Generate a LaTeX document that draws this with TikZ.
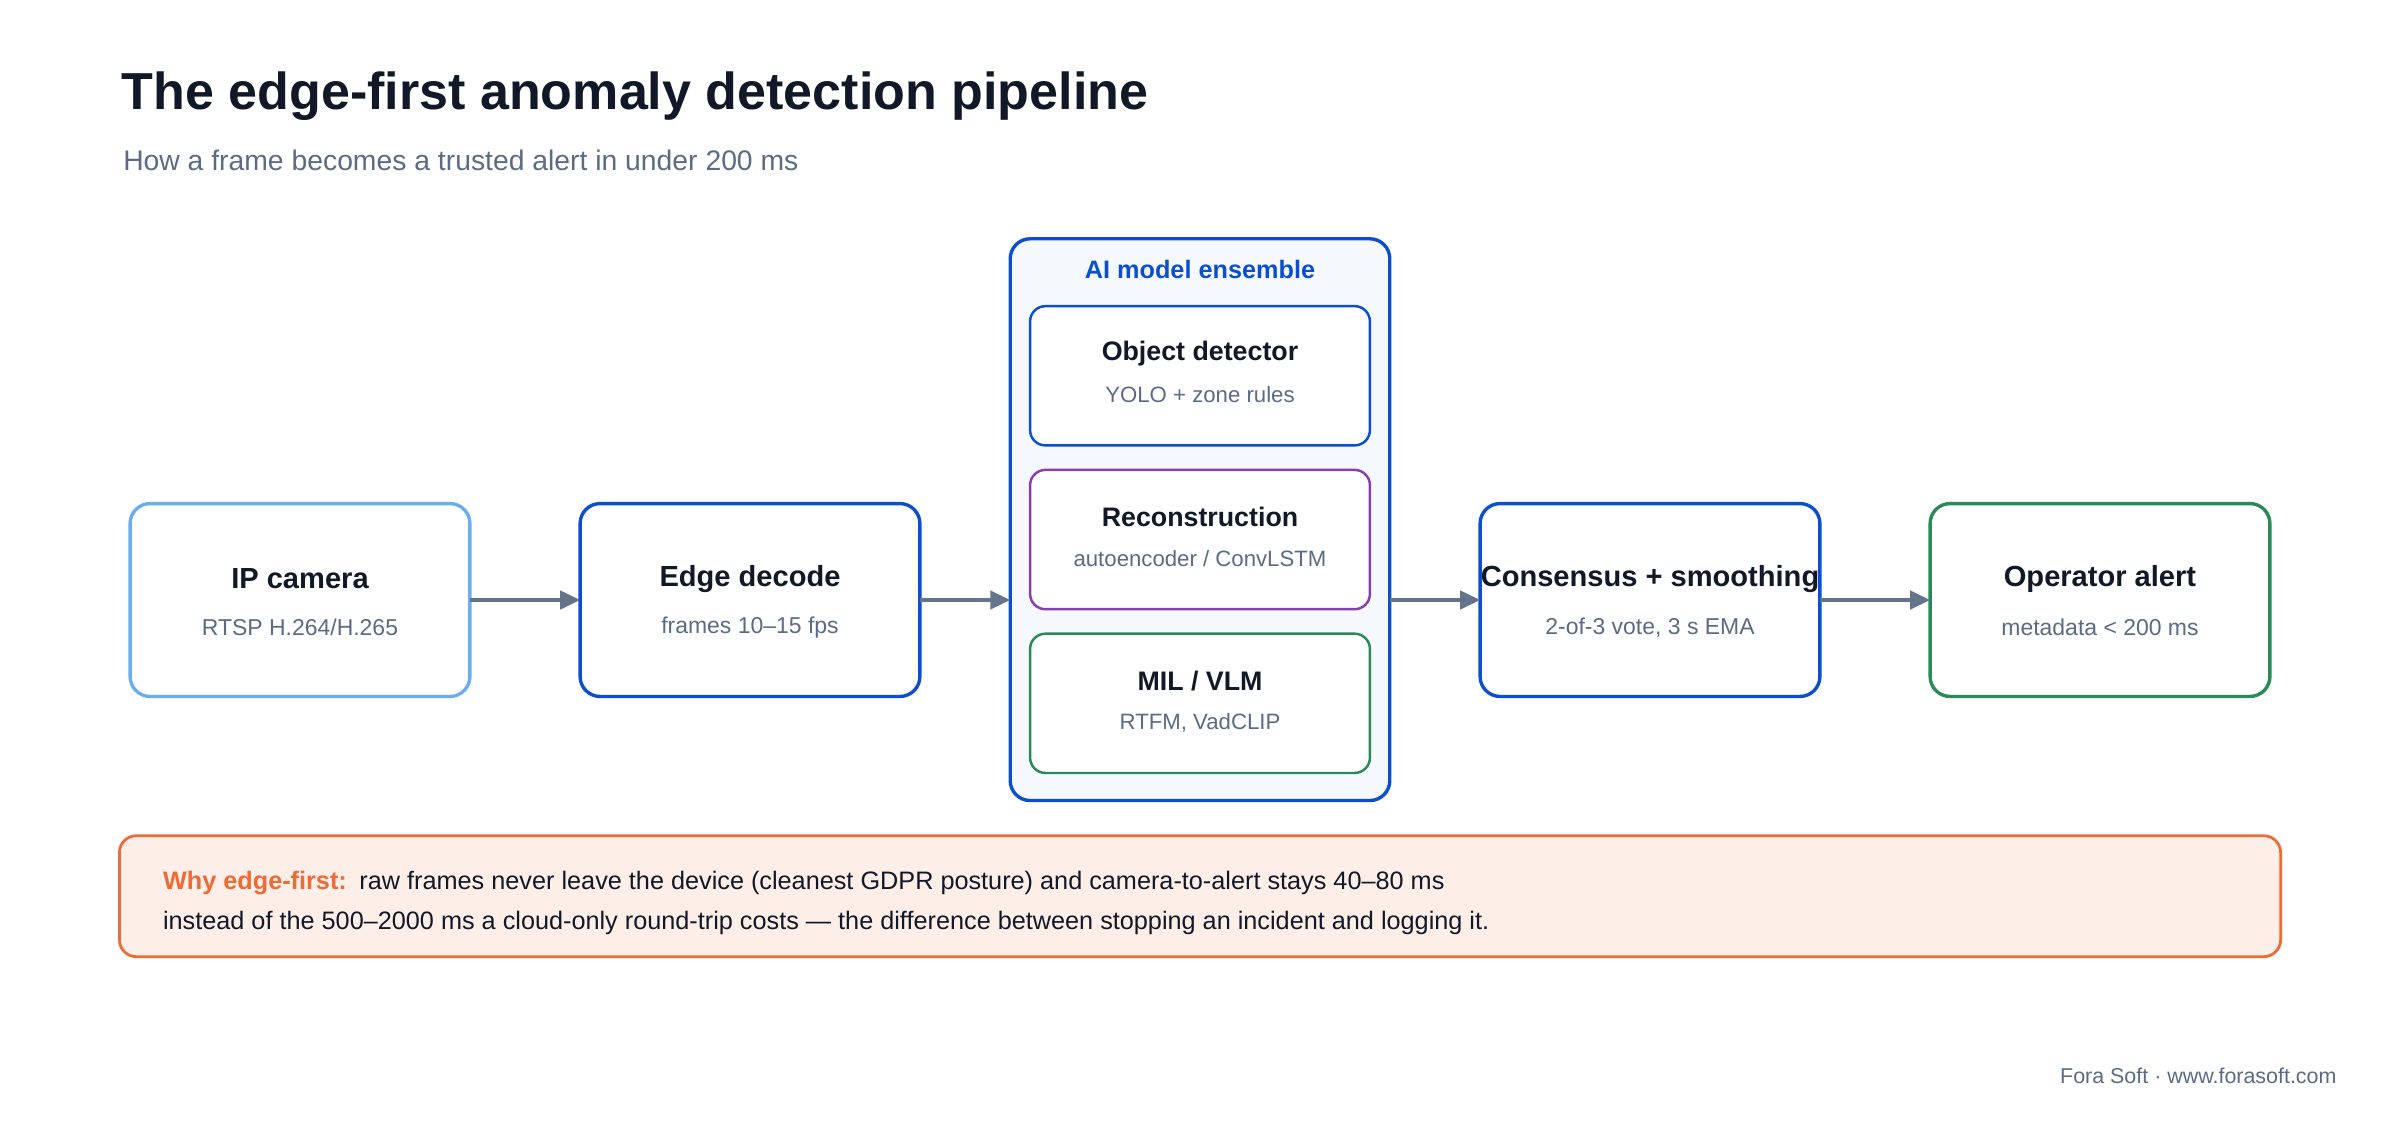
\documentclass[tikz,border=0pt]{standalone}
\usepackage{fontspec}
\setmainfont{Liberation Sans}
\usetikzlibrary{arrows.meta}
\definecolor{ink}{HTML}{111827}
\definecolor{sub}{HTML}{5B6B85}
\definecolor{lblue}{HTML}{6AAEF0}
\definecolor{dblue}{HTML}{0B4FD0}
\definecolor{purp}{HTML}{8A3DB0}
\definecolor{grn}{HTML}{2A8A55}
\definecolor{arr}{HTML}{64748B}
\definecolor{org}{HTML}{F06A35}
\definecolor{orgfill}{HTML}{FDEEE8}
\definecolor{ensfill}{HTML}{F5F8FC}
\tikzset{x=1pt,y=-1pt,
 box/.style={draw,line width=2.2pt,rounded corners=13pt,fill=white},
 inbox/.style={draw,line width=1.6pt,rounded corners=10pt,fill=white},
 ttl/.style={font=\fontsize{19}{22}\selectfont\bfseries,text=ink},
 st/.style={font=\fontsize{15}{18}\selectfont,text=sub},
 con/.style={draw=arr,line width=2pt,-{Triangle[length=13pt,width=12pt]}}}
\begin{document}
\begin{tikzpicture}
\useasboundingbox (0,0) rectangle (1568,732);
\node[anchor=west,font=\fontsize{34}{40}\selectfont\bfseries,text=ink] (title) at (76,63) {The edge-first anomaly detection pipeline};
\node[anchor=west,font=\fontsize{18.5}{22}\selectfont,text=sub] (subt) at (77,105) {How a frame becomes a trusted alert in under 200 ms};
% ensemble
\draw[box,fill=ensfill,draw=dblue] (660,156) rectangle (908,523);
\node[font=\fontsize{16.5}{20}\selectfont\bfseries,text=dblue] (enst) at (784,176) {AI model ensemble};
\draw[inbox,draw=dblue] (673,200) rectangle (895,291);
\node[ttl,font=\fontsize{17.5}{20}\selectfont\bfseries] (od) at (784,231) {Object detector};
\node[st,font=\fontsize{14.5}{18}\selectfont] (ods) at (784,258) {YOLO + zone rules};
\draw[inbox,draw=purp] (673,307) rectangle (895,398);
\node[ttl,font=\fontsize{17.5}{20}\selectfont\bfseries] (rc) at (784,338) {Reconstruction};
\node[st,font=\fontsize{14.5}{18}\selectfont] (rcs) at (784,365) {autoencoder / ConvLSTM};
\draw[inbox,draw=grn] (673,414) rectangle (895,505);
\node[ttl,font=\fontsize{17.5}{20}\selectfont\bfseries] (mil) at (784,445) {MIL / VLM};
\node[st,font=\fontsize{14.5}{18}\selectfont] (mils) at (784,472) {RTFM, VadCLIP};
\coordinate (ensL) at (660,392); \coordinate (ensR) at (908,392);
% boxes
\draw[box,draw=lblue] (85,329) rectangle (307,455);
\node[ttl] at (196,378) {IP camera};
\node[st] at (196,410) {RTSP H.264/H.265};
\coordinate (camR) at (307,392);
\draw[box,draw=dblue] (379,329) rectangle (601,455);
\node[ttl] at (490,378) {Edge decode};
\node[st] at (490,410) {frames 10–15 fps};
\coordinate (decL) at (379,392); \coordinate (decR) at (601,392);
\draw[box,draw=dblue] (967,329) rectangle (1189,455);
\node[ttl] at (1078,378) {Consensus + smoothing};
\node[st] at (1078,410) {2-of-3 vote, 3 s EMA};
\coordinate (conL) at (967,392); \coordinate (conR) at (1189,392);
\draw[box,draw=grn] (1261,329) rectangle (1483,455);
\node[ttl] at (1372,378) {Operator alert};
\node[st] at (1372,410) {metadata < 200 ms};
\coordinate (opL) at (1261,392);
\draw[con] (camR) -- (decL);
\draw[con] (decR) -- (ensL);
\draw[con] (ensR) -- (conL);
\draw[con] (conR) -- (opL);
% note
\draw[draw=org,fill=orgfill,line width=1.8pt,rounded corners=11pt] (78,546) rectangle (1490,625);
\node[anchor=west,font=\fontsize{16.5}{20}\selectfont,text=ink] (n1) at (103,577) {\textcolor{org}{\bfseries Why edge-first:}\enspace raw frames never leave the device (cleanest GDPR posture) and camera-to-alert stays 40–80 ms};
\node[anchor=west,font=\fontsize{16.5}{20}\selectfont,text=ink] (n2) at (103,603) {instead of the 500–2000 ms a cloud-only round-trip costs — the difference between stopping an incident and logging it.};
\node[anchor=east,font=\fontsize{14}{17}\selectfont,text=sub] (foot) at (1530,703) {Fora Soft · www.forasoft.com};
\end{tikzpicture}
\end{document}
